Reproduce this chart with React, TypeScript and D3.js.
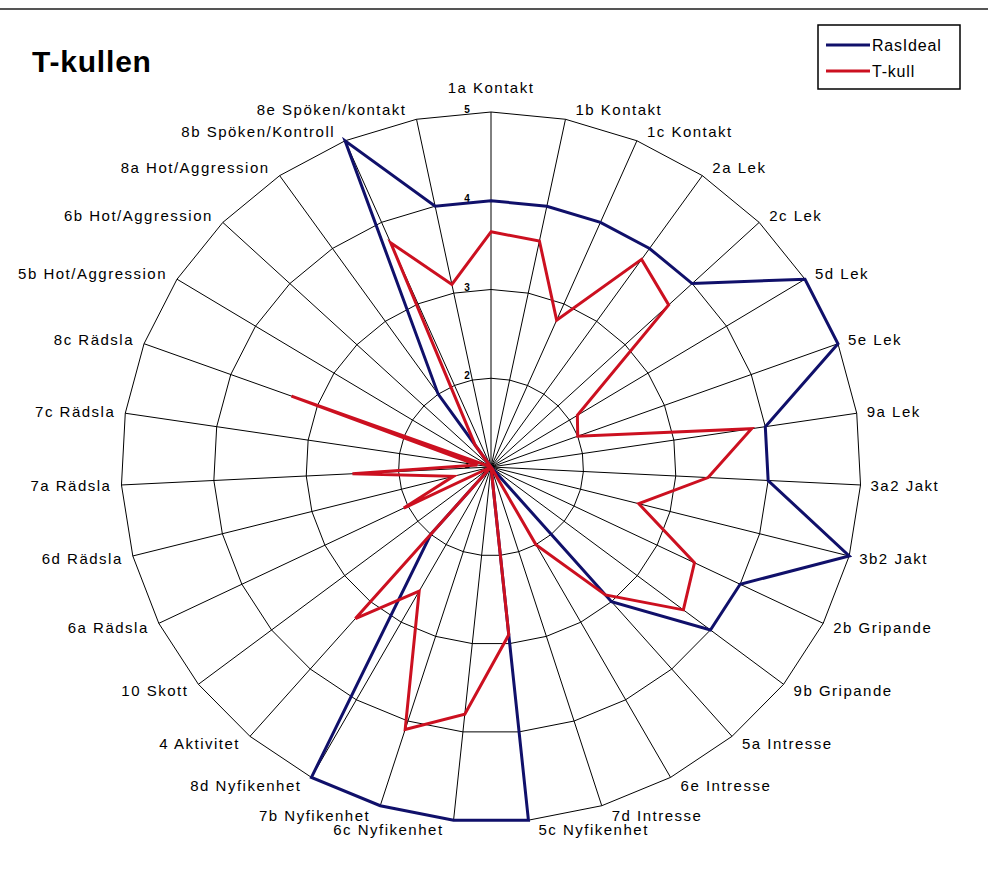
import React from 'react';
import { scaleLinear, line, curveLinearClosed } from 'd3';

const categories = [
  '1a Kontakt', '1b Kontakt', '1c Kontakt', '2a Lek', '2c Lek', '5d Lek', '5e Lek', '9a Lek',
  '3a2 Jakt', '3b2 Jakt', '2b Gripande', '9b Gripande', '5a Intresse', '6e Intresse', '7d Intresse',
  '5c Nyfikenhet', '6c Nyfikenhet', '7b Nyfikenhet', '8d Nyfikenhet', '4 Aktivitet', '10 Skott',
  '6a Rädsla', '6d Rädsla', '7a Rädsla', '7c Rädsla', '8c Rädsla', '5b Hot/Aggression',
  '6b Hot/Aggression', '8a Hot/Aggression', '8b Spöken/Kontroll', '8e Spöken/kontakt',
];

const rasIdeal = [4, 4, 4, 4, 4, 5, 5, 4, 4, 5, 4, 4, 3, 1, 1, 5, 5, 5, 5, 2, 1, 1, 1, 1, 1, 1, 1, 1, 2, 5, 4];
const tKull = [3.65, 3.6, 2.8, 3.85, 3.65, 2.1, 2.0, 3.85, 3.35, 2.65, 3.45, 3.63, 2.9, 2.0, 1, 2.9, 3.8, 4.1, 2.6, 3.25, 1, 2.05, 1.42, 2.5, 1.15, 3.3, 1, 1, 1.3, 3.75, 3.1];
const ticks = [1, 2, 3, 4, 5];

const series = [
  { name: 'RasIdeal', values: rasIdeal, color: '#10106a' },
  { name: 'T-kull', values: tKull, color: '#cc1020' },
];

const W = 988;
const H = 871;
const cx = 491;
const cy = 467;
const rx = 370; // the picture is a bit wider than tall
const ry = 355;

export default function App() {
  const r = scaleLinear().domain([1, 5]).range([0, 1]).clamp(true);
  const angle = scaleLinear().domain([0, categories.length]).range([0, 2 * Math.PI]);

  const pt = (i: number, v: number): [number, number] => {
    const a = angle(i);
    return [cx + rx * r(v) * Math.sin(a), cy - ry * r(v) * Math.cos(a)];
  };

  const path = line<[number, number]>().curve(curveLinearClosed);
  const font = '"Liberation Sans", Arial, sans-serif';

  return (
    <svg width={W} height={H} style={{ position: 'absolute', left: 0, top: 0, background: '#fff' }}>
      <rect x={0} y={0} width={W} height={H} fill="#fff" />
      <line x1={0} x2={W} y1={9} y2={9} stroke="#555" strokeWidth={2} />

      <text x={32} y={72} fontFamily={font} fontSize={30} fontWeight="bold" letterSpacing={0.8} fill="#000">T-kullen</text>

      {/* web */}
      {ticks.slice(1).map((t) => (
        <path key={t} d={path(categories.map((_, i) => pt(i, t)))!} fill="none" stroke="#000" strokeWidth={1} />
      ))}
      {categories.map((c, i) => {
        const [x, y] = pt(i, 5);
        return <line key={c} x1={cx} y1={cy} x2={x} y2={y} stroke="#000" strokeWidth={1} />;
      })}

      {/* tick labels */}
      {ticks.map((t) => {
        const [, y] = pt(0, t);
        return (
          <text key={t} x={467} y={y + 1} fontFamily={font} fontSize={10} fontWeight="bold" textAnchor="middle">
            {t}
          </text>
        );
      })}

      {series.map((s) => (
        <path
          key={s.name}
          d={path(s.values.map((v, i) => pt(i, v)))!}
          fill="none"
          stroke={s.color}
          strokeWidth={3}
          strokeLinejoin="miter"
        />
      ))}

      {/* category labels */}
      {categories.map((c, i) => {
        const a = angle(i);
        const [x, y] = pt(i, 5);
        const s = Math.sin(a);
        const co = Math.cos(a);
        let anchor = 'middle';
        let tx = x;
        let ty = y - co * 10;
        if (i === 0) ty = y - 24;
        else if (s > 0) { anchor = 'start'; tx = x + 10; }
        else { anchor = 'end'; tx = x - 10; }
        return (
          <text key={c} x={tx} y={ty} dy="0.35em" fontFamily={font} fontSize={15} letterSpacing={1.5}
            textAnchor={anchor} fill="#000">
            {c}
          </text>
        );
      })}

      {/* legend */}
      <rect x={818} y={25} width={142} height={64} fill="#fff" stroke="#000" strokeWidth={1.5} />
      {series.map((s, i) => (
        <g key={s.name} transform={`translate(826, ${45 + i * 26})`}>
          <line x1={0} x2={44} y1={0} y2={0} stroke={s.color} strokeWidth={3} />
          <text x={46} y={0} dy="0.35em" fontFamily={font} fontSize={16} letterSpacing={0.8}>{s.name}</text>
        </g>
      ))}
    </svg>
  );
}
